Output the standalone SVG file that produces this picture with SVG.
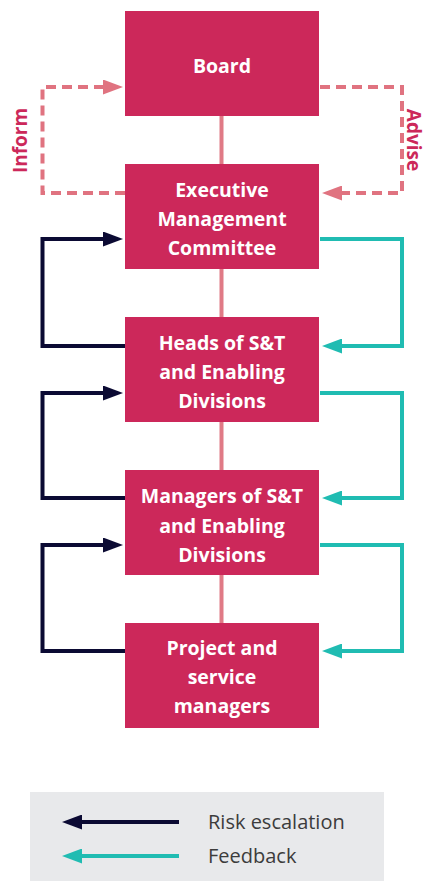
<svg xmlns="http://www.w3.org/2000/svg" width="428" height="881" viewBox="0 0 428 881">
<style>
.box{fill:#CC285A}
.bt{font-family:"Open Sans","Noto Sans",sans-serif;font-weight:700;font-size:19.5px;fill:#fff;text-anchor:middle}
.side{font-family:"Open Sans","Noto Sans",sans-serif;font-weight:700;font-size:19px;fill:#CC285A;text-anchor:middle}
.lt{font-family:"Open Sans","Noto Sans",sans-serif;font-size:20px;fill:#3c3c3c}
.vl{stroke:#E07A86;stroke-width:4;fill:none}
.dash{stroke:#E07380;stroke-width:4;fill:none;stroke-dasharray:10 6}
.risk{stroke:#0B0A33;stroke-width:4;fill:none}
.fb{stroke:#20BCB2;stroke-width:4;fill:none}
</style>
<defs>
<marker id="aPink" markerUnits="userSpaceOnUse" markerWidth="20" markerHeight="15" refX="0" refY="7.5" orient="auto"><path d="M0,0 L20,7.5 L0,15 z" fill="#E07380"/></marker>
<marker id="aDark" markerUnits="userSpaceOnUse" markerWidth="20" markerHeight="15" refX="0" refY="7.5" orient="auto"><path d="M0,0 L20,7.5 L0,15 z" fill="#0B0A33"/></marker>
<marker id="aTeal" markerUnits="userSpaceOnUse" markerWidth="20" markerHeight="15" refX="0" refY="7.5" orient="auto"><path d="M0,0 L20,7.5 L0,15 z" fill="#20BCB2"/></marker>
</defs>
<g id="connectors">
<path class="vl" d="M221.5,116 V164 M221.5,269 V317 M221.5,422 V470 M221.5,575 V623"/>
<path class="dash" d="M125,193 H42.5 V87 H103" marker-end="url(#aPink)"/>
<path class="dash" d="M320,87 H402 V193 H342" marker-end="url(#aPink)"/>
<path class="risk" d="M125,346 H42.5 V239 H103" marker-end="url(#aDark)"/>
<path class="risk" d="M125,498 H42.5 V393 H103" marker-end="url(#aDark)"/>
<path class="risk" d="M125,651 H42.5 V545 H103" marker-end="url(#aDark)"/>
<path class="fb" d="M320,239 H402 V346 H342" marker-end="url(#aTeal)"/>
<path class="fb" d="M320,393 H402 V498 H342" marker-end="url(#aTeal)"/>
<path class="fb" d="M320,545 H402 V651 H342" marker-end="url(#aTeal)"/>
</g>
<g id="board"><rect class="box" x="125" y="11" width="194" height="105"/><text class="bt" x="222" y="73">Board</text></g>
<g id="emc"><rect class="box" x="125" y="164" width="194" height="105"/><text class="bt" x="222" y="196.5">Executive</text><text class="bt" x="222" y="225.5">Management</text><text class="bt" x="222" y="254.5">Committee</text></g>
<g id="heads"><rect class="box" x="125" y="317" width="194" height="105"/><text class="bt" x="222" y="350">Heads of S&amp;T</text><text class="bt" x="222" y="379">and Enabling</text><text class="bt" x="222" y="408">Divisions</text></g>
<g id="managers"><rect class="box" x="125" y="470" width="194" height="105"/><text class="bt" x="222" y="503">Managers of S&amp;T</text><text class="bt" x="222" y="533">and Enabling</text><text class="bt" x="222" y="562">Divisions</text></g>
<g id="project"><rect class="box" x="125" y="623" width="194" height="105"/><text class="bt" x="222" y="655">Project and</text><text class="bt" x="222" y="684">service</text><text class="bt" x="222" y="713">managers</text></g>
<g id="inform"><text class="side" transform="translate(27,140.5) rotate(-90)">Inform</text></g>
<g id="advise"><text class="side" transform="translate(407,140) rotate(90)">Advise</text></g>
<g id="legend">
<rect x="30" y="792" width="354" height="89" fill="#E8E9EB"/>
<path class="risk" d="M179,822 H82" marker-end="url(#aDark)"/>
<path class="fb" d="M179,856 H82" marker-end="url(#aTeal)"/>
<text class="lt" x="208" y="829">Risk escalation</text>
<text class="lt" x="208" y="863">Feedback</text>
</g>
</svg>
